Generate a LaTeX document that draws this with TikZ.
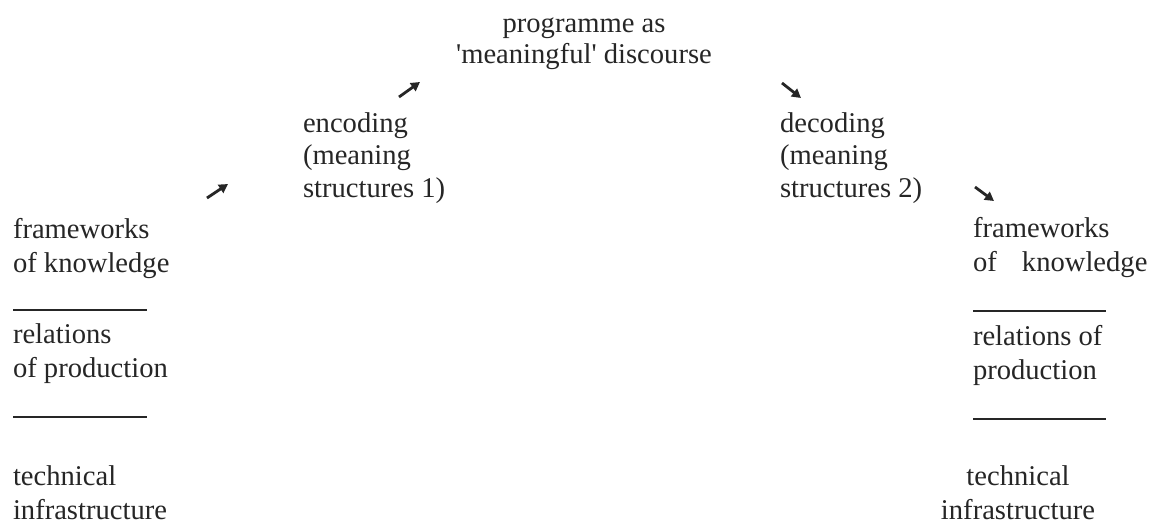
\documentclass[tikz,border=0pt]{standalone}
\usepackage{fontspec}
\setmainfont{Liberation Serif}
\usetikzlibrary{arrows.meta}
\definecolor{ink}{gray}{0.15}
\newcommand{\stk}[2][l]{\begin{tabular}[t]{@{}#1@{}}#2\end{tabular}}
\tikzset{
  lbl/.style={inner sep=0pt, outer sep=0pt, text=ink, anchor=base west},
  lblc/.style={lbl, anchor=base},
  fs/.style={font=\fontsize{14.3}{#1}\selectfont},
  rule/.style={draw=ink, line width=0.65pt},
  flow/.style={draw=black!85, line width=1.4pt, -{Triangle[length=4.5pt,width=4.8pt]}}
}
\begin{document}
\begin{tikzpicture}[x=0.5pt,y=-0.5pt]
\useasboundingbox[fill=white] (0,0) rectangle (1162,526);
% top
\node[lblc,fs=15.5pt] (prog) at (584,32) {\stk[c]{programme as\\\textquotesingle meaningful\textquotesingle{} discourse}};
% encoding / decoding
\node[lbl,fs=16.25pt] (enc) at (303,132) {\stk{encoding\\(meaning\\structures 1)}};
\node[lbl,fs=16.25pt] (dec) at (780,132) {\stk{decoding\\(meaning\\structures 2)}};
% left stack
\node[lbl,fs=17pt] (lfk) at (13,238) {\stk{frameworks\\of knowledge}};
\node[lbl,fs=17pt] (lrp) at (13,343) {\stk{relations\\of production}};
\node[lbl,fs=17pt] (lti) at (13,485) {\stk{technical\\infrastructure}};
\draw[rule] (13,310) -- (147,310);
\draw[rule] (13,417) -- (147,417);
% right stack
\node[lbl,fs=17pt] (rfk) at (973,237) {\stk{frameworks\\of\hspace{9pt} knowledge}};
\node[lbl,fs=17pt] (rrp) at (973,345) {\stk{relations of\\production}};
\node[lblc,fs=17pt] (rti) at (1018,485) {\stk[c]{technical\\infrastructure}};
\draw[rule] (973,311) -- (1106,311);
\draw[rule] (973,419) -- (1106,419);
% arrows
\coordinate (a1s) at (207,198); \coordinate (a1e) at (228,184);
\coordinate (a2s) at (399,97);  \coordinate (a2e) at (420,82);
\coordinate (a3s) at (782,83);  \coordinate (a3e) at (801,98);
\coordinate (a4s) at (975,187); \coordinate (a4e) at (994,201);
\draw[flow] (a1s) -- (a1e);
\draw[flow] (a2s) -- (a2e);
\draw[flow] (a3s) -- (a3e);
\draw[flow] (a4s) -- (a4e);
\end{tikzpicture}
\end{document}
